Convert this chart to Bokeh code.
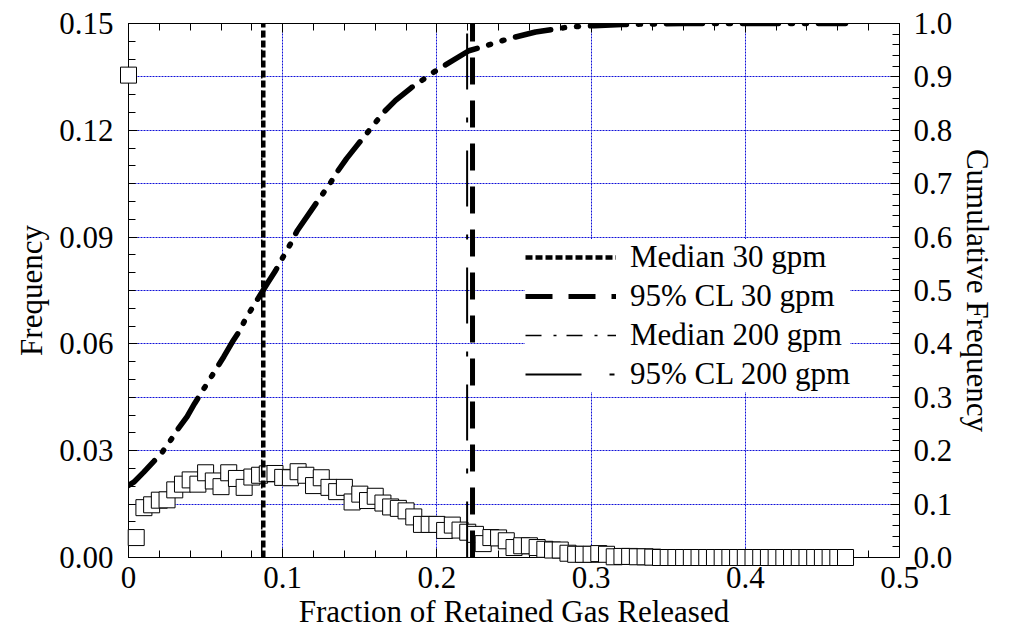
from bokeh.plotting import figure
from bokeh.models import Range1d, LinearAxis, FixedTicker, Grid, Legend, LegendItem
from bokeh.embed import file_html
from bokeh.resources import INLINE

# ---------------- data ----------------
freq_x = [0.000, 0.005, 0.010, 0.015, 0.020, 0.025, 0.030, 0.035, 0.040, 0.045,
          0.050, 0.055, 0.060, 0.065, 0.070, 0.075, 0.080, 0.085, 0.090, 0.095,
          0.100, 0.105, 0.110, 0.115, 0.120, 0.125, 0.130, 0.135, 0.140, 0.145,
          0.150, 0.155, 0.160, 0.165, 0.170, 0.175, 0.180, 0.185, 0.190, 0.195,
          0.200, 0.205, 0.210, 0.215, 0.220, 0.225, 0.230, 0.235, 0.240, 0.245,
          0.250, 0.255, 0.260, 0.265, 0.270, 0.275, 0.280, 0.285, 0.290, 0.295,
          0.300, 0.305, 0.310, 0.315, 0.320, 0.325, 0.330, 0.335, 0.340, 0.345,
          0.350, 0.355, 0.360, 0.365, 0.370, 0.375, 0.380, 0.385, 0.390, 0.395,
          0.400, 0.405, 0.410, 0.415, 0.420, 0.425, 0.430, 0.435, 0.440, 0.445,
          0.450, 0.455, 0.460, 0.465]
freq_y = [0.1355, 0.0056, 0.0140, 0.0148, 0.0161, 0.0162, 0.0190, 0.0206, 0.0218, 0.0206,
          0.0238, 0.0215, 0.0199, 0.0238, 0.0222, 0.0197, 0.0226, 0.0231, 0.0235, 0.0236,
          0.0225, 0.0224, 0.0241, 0.0231, 0.0202, 0.0224, 0.0197, 0.0185, 0.0197, 0.0156,
          0.0178, 0.0160, 0.0172, 0.0153, 0.0142, 0.0138, 0.0131, 0.0114, 0.0093, 0.0093,
          0.0093, 0.0076, 0.0091, 0.0077, 0.0071, 0.0065, 0.0039, 0.0056, 0.0055, 0.0047,
          0.0028, 0.0033, 0.0033, 0.0028, 0.0023, 0.0021, 0.0021, 0.0012, 0.0009, 0.0009,
          0.0009, 0.0011, 0.0009, 0.0002, 0.0003, 0.0003, 0.0002, 0.0002, 0.0001, 0.0000,
          0.0000, 0.0000, 0.0000, 0.0000, 0.0000, 0.0000, 0.0000, 0.0000, 0.0000, 0.0000,
          0.0000, 0.0000, 0.0000, 0.0000, 0.0000, 0.0000, 0.0000, 0.0000, 0.0000, 0.0000,
          0.0000, 0.0000, 0.0000, 0.0000]

cum_x = [0.0, 0.0034, 0.0099, 0.0164, 0.0218, 0.0272, 0.0322, 0.038, 0.0428, 0.0575,
         0.0618, 0.0672, 0.0722, 0.0759, 0.090, 0.0953, 0.1001, 0.105, 0.1094, 0.1245,
         0.130, 0.1353, 0.1414, 0.1472, 0.1656, 0.1732, 0.1835, 0.1911, 0.198, 0.2207,
         0.2304, 0.239, 0.2499, 0.264, 0.2845, 0.294, 0.302, 0.320, 0.334, 0.360,
         0.400, 0.440, 0.465]
cum_y = [0.135, 0.141, 0.160, 0.180, 0.197, 0.219, 0.241, 0.264, 0.288, 0.356,
         0.376, 0.403, 0.425, 0.447, 0.513, 0.537, 0.562, 0.587, 0.612, 0.675,
         0.697, 0.722, 0.747, 0.768, 0.834, 0.856, 0.880, 0.895, 0.909, 0.949,
         0.957, 0.965, 0.974, 0.984, 0.993, 0.995, 0.996, 0.998, 0.999, 1.0,
         1.0, 1.0, 1.0]

series_names = ["Median 30 gpm", "95% CL 30 gpm", "Median 200 gpm", "95% CL 200 gpm"]
series_x = [0.0874, 0.2231, 0.0864, 0.2196]

x_ticks = [0.0, 0.1, 0.2, 0.3, 0.4, 0.5]
x_tick_labels = ["0", "0.1", "0.2", "0.3", "0.4", "0.5"]
y_ticks = [0.0, 0.03, 0.06, 0.09, 0.12, 0.15]
y_tick_labels = ["0.00", "0.03", "0.06", "0.09", "0.12", "0.15"]
cum_ticks = [0.0, 0.1, 0.2, 0.3, 0.4, 0.5, 0.6, 0.7, 0.8, 0.9, 1.0]
cum_tick_labels = ["0.0", "0.1", "0.2", "0.3", "0.4", "0.5", "0.6", "0.7", "0.8", "0.9", "1.0"]

x_title = "Fraction of Retained Gas Released"
y_title = "Frequency"
y2_title = "Cumulative Frequency"

# ---------------- styling ----------------
FONT = "Liberation Serif"
FS = "31px"
GRID_COLOR = "#1010d8"

x_minor = [round(i * 0.02, 3) for i in range(26)]
y_minor = [round(i * 0.005, 4) for i in range(31)]
cum_minor = [round(i * 0.02, 3) for i in range(51)]

p = figure(width=1015, height=640, output_backend="svg", toolbar_location=None,
           x_range=Range1d(x_ticks[0], x_ticks[-1]), y_range=Range1d(y_ticks[0], y_ticks[-1]),
           x_axis_location=None, y_axis_location=None,
           min_border_left=128, min_border_right=116, min_border_top=23, min_border_bottom=83)
p.extra_y_ranges = {"cum": Range1d(cum_ticks[0], cum_ticks[-1])}
p.outline_line_color = "black"
p.outline_line_width = 1
p.background_fill_color = "white"
p.border_fill_color = "white"
p.xgrid.visible = False
p.ygrid.visible = False


def style_axis(ax, show_labels=True):
    ax.axis_line_color = "black"
    ax.axis_line_width = 1
    ax.major_tick_in = 9
    ax.major_tick_out = 0
    ax.minor_tick_in = 7
    ax.minor_tick_out = 0
    ax.major_tick_line_color = "black"
    ax.minor_tick_line_color = "black"
    ax.major_label_text_font = FONT
    ax.axis_label_text_font = FONT
    ax.axis_label_text_font_size = FS
    ax.axis_label_text_font_style = "normal"
    ax.axis_label_text_color = "black"
    if show_labels:
        ax.major_label_text_font_size = FS
        ax.major_label_text_color = "black"
    else:
        ax.major_label_text_font_size = "1px"
        ax.major_label_text_color = None


bottom = LinearAxis(ticker=FixedTicker(ticks=x_ticks, minor_ticks=x_minor), axis_label=x_title)
style_axis(bottom)
bottom.major_label_overrides = dict(zip(x_ticks, x_tick_labels))
bottom.major_label_standoff = 9
bottom.axis_label_standoff = 3
p.add_layout(bottom, "below")

top = LinearAxis(ticker=FixedTicker(ticks=x_ticks, minor_ticks=x_minor))
style_axis(top, show_labels=False)
top.major_label_standoff = 0
p.add_layout(top, "above")

left = LinearAxis(ticker=FixedTicker(ticks=y_ticks, minor_ticks=y_minor), axis_label=y_title)
style_axis(left)
left.major_label_overrides = dict(zip(y_ticks, y_tick_labels))
left.major_label_standoff = 15
left.axis_label_standoff = 7
p.add_layout(left, "left")

right = LinearAxis(y_range_name="cum", ticker=FixedTicker(ticks=cum_ticks, minor_ticks=cum_minor),
                   axis_label=y2_title)
style_axis(right)
right.major_label_overrides = dict(zip(cum_ticks, cum_tick_labels))
right.major_label_standoff = 14
right.axis_label_standoff = 5
p.add_layout(right, "right")

# grids: blue dotted
xg = Grid(dimension=0, ticker=FixedTicker(ticks=x_ticks[1:-1]), grid_line_color=GRID_COLOR,
          grid_line_width=1, grid_line_dash="2 1")
yg = Grid(dimension=1, y_range_name="cum", ticker=FixedTicker(ticks=cum_ticks[1:-1]),
          grid_line_color=GRID_COLOR, grid_line_width=1, grid_line_dash="2 1")
p.add_layout(xg)
p.add_layout(yg)

# cumulative curve
p.line(cum_x, cum_y, y_range_name="cum", line_color="black", line_width=5.5,
       line_dash="36 12 2 12 2 12", line_cap="round")

# frequency squares (overlay level so markers on the axes are not cut)
p.scatter(freq_x, freq_y, marker="square", size=16, fill_color="white",
          line_color="black", line_width=1, level="overlay")

# vertical statistic lines
styles = [dict(line_width=4.5, line_dash="7 3"),
          dict(line_width=5, line_dash="27 16"),
          dict(line_width=1.5, line_dash="16 12 3 10"),
          dict(line_width=2, line_dash="56 28 5 28")]
y_lo, y_hi = y_ticks[0], y_ticks[-1]
renderers = []
for name, xv, st in zip(series_names, series_x, styles):
    r = p.line([xv, xv], [y_lo, y_hi], line_color="black", line_cap="butt",
               level="overlay", **st)
    renderers.append(r)

legend = Legend(items=[LegendItem(label=n, renderers=[r]) for n, r in zip(series_names, renderers)],
                location=(397, 165), orientation="vertical")
legend.label_text_font = FONT
legend.label_text_font_size = FS
legend.label_text_color = "black"
legend.glyph_width = 91
legend.glyph_height = 36
legend.label_height = 36
legend.label_standoff = 14
legend.spacing = 3
legend.padding = 5
legend.margin = 0
legend.border_line_color = None
legend.background_fill_color = "white"
legend.background_fill_alpha = 1.0
p.add_layout(legend)

open("out.html", "w").write(file_html(p, INLINE))
